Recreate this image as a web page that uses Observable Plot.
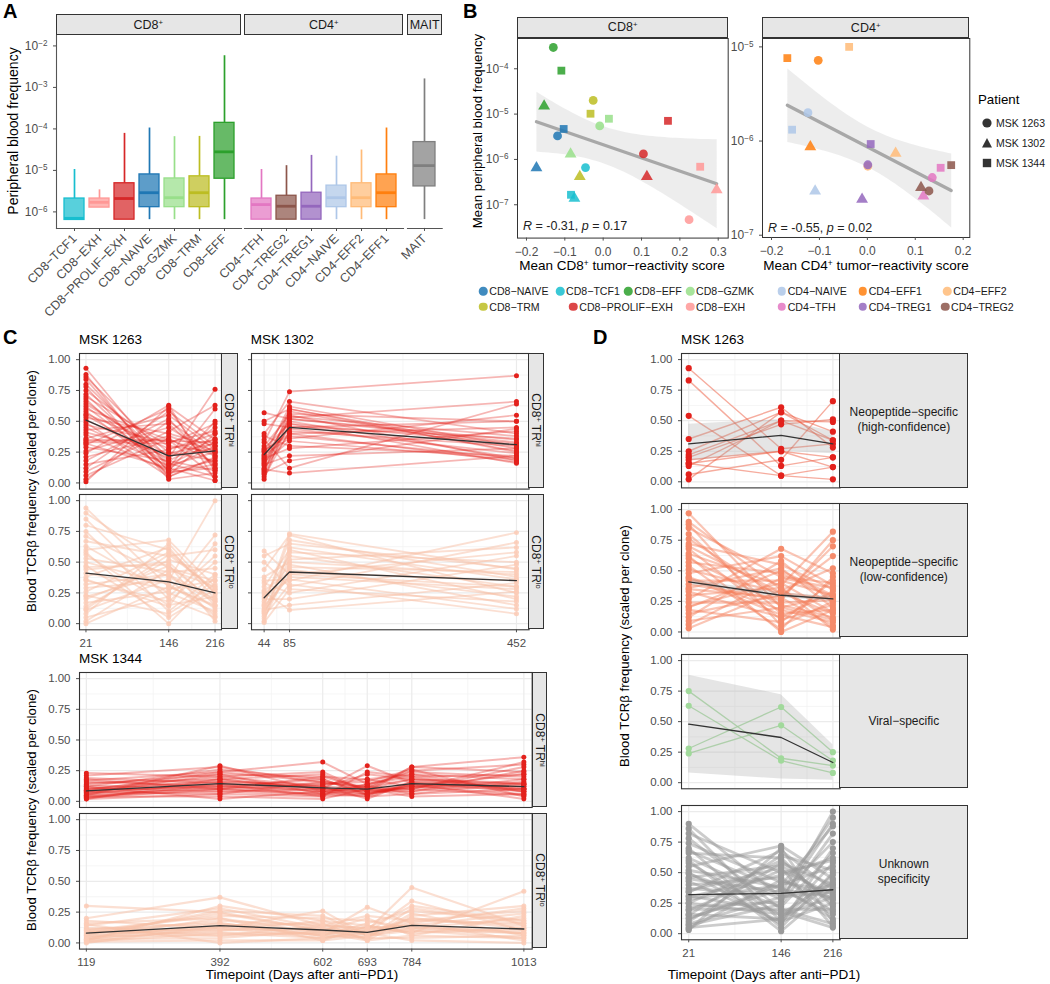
<!DOCTYPE html>
<html><head><meta charset="utf-8">
<script src="https://cdn.jsdelivr.net/npm/d3@7"></script>
<script src="https://cdn.jsdelivr.net/npm/@observablehq/plot@0.6"></script>
<style>
html,body{margin:0;padding:0;background:#fff;}
#root{position:relative;width:1050px;height:984px;overflow:hidden;font-family:"Liberation Sans",Arial,Helvetica,sans-serif;color:#000;}
.t{position:absolute;white-space:nowrap;line-height:1;}
.strip{position:absolute;box-sizing:border-box;background:#e6e6e6;border:1px solid #333;}
sup{font-size:0.62em;vertical-align:0.55em;line-height:0;}
</style></head><body><div id="root"></div>
<script>
// ================= DATA =================
// Panel A: boxplot summaries (peripheral blood frequency)
const aCats   = ["CD8−TCF1","CD8−EXH","CD8−PROLIF−EXH","CD8−NAIVE","CD8−GZMK","CD8−TRM","CD8−EFF",
                 "CD4−TFH","CD4−TREG2","CD4−TREG1","CD4−NAIVE","CD4−EFF2","CD4−EFF1","MAIT"];
const aGroups = ["CD8","CD8","CD8","CD8","CD8","CD8","CD8","CD4","CD4","CD4","CD4","CD4","CD4","MAIT"];
const aLow  = [6.4e-7,1.27e-6,6.5e-7,6.5e-7,6.5e-7,6.5e-7,6.5e-7,6.5e-7,6.5e-7,6.5e-7,6.5e-7,6.5e-7,6.5e-7,6.5e-7];
const aQ1   = [6.4e-7,1.27e-6,6.5e-7,1.3e-6,1.3e-6,1.3e-6,6.3e-6,6.5e-7,6.5e-7,6.5e-7,1.3e-6,1.3e-6,1.3e-6,4.1e-6];
const aMed  = [7.0e-7,1.7e-6,2.1e-6,2.9e-6,2.2e-6,2.9e-6,2.8e-5,1.5e-6,1.37e-6,1.37e-6,2.2e-6,2.2e-6,2.9e-6,1.3e-5];
const aQ3   = [2.1e-6,2.1e-6,4.9e-6,8.0e-6,6.4e-6,7.2e-6,1.4e-4,2.1e-6,2.45e-6,2.9e-6,4.3e-6,4.9e-6,8.0e-6,4.8e-5];
const aHigh = [1.05e-5,3.4e-6,7.8e-5,1.05e-4,6.5e-5,6.6e-5,5.8e-3,1.05e-5,1.3e-5,2.3e-5,2.2e-5,3.1e-5,1.05e-4,1.6e-3];

// Panel B: mean tumor-reactivity score vs mean peripheral frequency
const patients = ["MSK 1263","MSK 1302","MSK 1344"];
const b8Cell  = ["CD8−EFF","CD8−EFF","CD8−EFF","CD8−TRM","CD8−TRM","CD8−TRM","CD8−GZMK","CD8−GZMK","CD8−GZMK",
                 "CD8−NAIVE","CD8−NAIVE","CD8−NAIVE","CD8−TCF1","CD8−TCF1","CD8−TCF1",
                 "CD8−PROLIF−EXH","CD8−PROLIF−EXH","CD8−PROLIF−EXH","CD8−EXH","CD8−EXH","CD8−EXH"];
const b8Pat   = ["MSK 1263","MSK 1344","MSK 1302","MSK 1263","MSK 1344","MSK 1302","MSK 1344","MSK 1263","MSK 1302",
                 "MSK 1344","MSK 1263","MSK 1302","MSK 1263","MSK 1344","MSK 1302",
                 "MSK 1344","MSK 1263","MSK 1302","MSK 1344","MSK 1302","MSK 1263"];
const b8Score = [-0.130,-0.109,-0.154,-0.026,-0.033,-0.061,0.015,-0.009,-0.085,-0.103,-0.119,-0.174,-0.046,-0.084,-0.075,
                 0.169,0.105,0.114,0.253,0.296,0.224];
const b8Freq  = [2.95e-4,9.1e-5,1.5e-5,2.0e-5,1.02e-5,4.2e-7,7.9e-6,5.5e-6,1.32e-6,4.7e-6,3.3e-6,6.5e-7,6.6e-7,1.66e-7,1.38e-7,
                 7.1e-6,1.32e-6,4.2e-7,6.9e-7,2.14e-7,4.7e-8];
const b4Cell  = ["CD4−EFF1","CD4−EFF1","CD4−EFF2","CD4−NAIVE","CD4−NAIVE","CD4−EFF1","CD4−NAIVE","CD4−TREG1","CD4−TREG1",
                 "CD4−EFF2","CD4−TREG1","CD4−EFF2","CD4−TFH","CD4−TFH","CD4−TFH","CD4−TREG2","CD4−TREG2","CD4−TREG2"];
const b4Pat   = ["MSK 1344","MSK 1263","MSK 1344","MSK 1263","MSK 1344","MSK 1302","MSK 1302","MSK 1302","MSK 1344",
                 "MSK 1263","MSK 1263","MSK 1302","MSK 1344","MSK 1263","MSK 1302","MSK 1344","MSK 1302","MSK 1263"];
const b4Score = [-0.167,-0.1025,-0.038,-0.124,-0.157,-0.119,-0.109,-0.011,0.007,0.001,0.001,0.059,0.153,0.1355,0.117,0.175,0.112,0.1286];
const b4Freq  = [7.6e-6,7.2e-6,1.0e-5,2.0e-6,1.32e-6,8.7e-7,2.95e-7,2.4e-7,9.3e-7,5.4e-7,5.6e-7,7.4e-7,5.2e-7,4.1e-7,2.6e-7,5.55e-7,3.2e-7,2.95e-7];

// Panel C/D timepoints
const t1263 = [21,146,216];
const t1302 = [44,85,452];
const t1344 = [119,392,602,693,784,1013];

// Panel C: MSK 1263 clones (scaled frequency at 21, 146, 216)
const c1263Hi = [[0.93,0.12,0.30],[0.88,0.05,0.21],[0.86,0.20,0.45],[0.84,0.09,0.12],[0.80,0.15,0.33],[0.78,0.03,0.08],
 [0.75,0.25,0.18],[0.72,0.10,0.50],[0.70,0.30,0.25],[0.68,0.06,0.40],[0.66,0.18,0.10],[0.64,0.22,0.28],[0.62,0.12,0.60],
 [0.60,0.35,0.22],[0.58,0.08,0.15],[0.56,0.28,0.35],[0.55,0.16,0.05],[0.53,0.40,0.30],[0.51,0.20,0.76],[0.49,0.05,0.20],
 [0.47,0.33,0.42],[0.45,0.14,0.25],[0.43,0.48,0.14],[0.41,0.24,0.32],[0.39,0.10,0.18],[0.36,0.55,0.27],[0.34,0.34,0.33],
 [0.33,0.32,0.48],[0.31,0.60,0.10],[0.29,0.18,0.36],[0.26,0.45,0.22],[0.24,0.63,0.02],[0.21,0.38,0.26],[0.18,0.52,0.12],
 [0.15,0.27,0.40],[0.12,0.58,0.30],[0.09,0.42,0.63],[0.06,0.36,0.16],[0.03,0.50,0.24],[0.01,0.62,0.35],[0.35,0.35,0.05],[0.32,0.12,0.02]];
const c1263HiMean = [0.51,0.22,0.26];
const c1263Lo = [[0.94,0.30,0.15],[0.90,0.45,0.35],[0.85,0.20,0.05],[0.80,0.60,0.25],[0.75,0.10,0.40],[0.71,0.38,0.18],
 [0.67,0.55,0.60],[0.63,0.25,0.10],[0.60,0.68,0.30],[0.56,0.15,0.22],[0.53,0.42,0.45],[0.50,0.32,0.08],[0.47,0.05,0.28],
 [0.44,0.50,0.15],[0.41,0.28,0.35],[0.38,0.62,0.20],[0.35,0.18,0.50],[0.32,0.40,0.12],[0.29,0.35,1.00],[0.26,0.58,0.26],
 [0.23,0.08,0.32],[0.20,0.47,0.18],[0.17,0.26,0.72],[0.14,0.52,0.40],[0.11,0.36,0.06],[0.08,0.65,0.24],[0.05,0.22,0.55],
 [0.02,0.44,0.30],[0.00,0.30,0.14],[0.58,0.00,0.38],[0.46,0.48,0.02],[0.36,0.14,0.65],[0.22,0.40,0.20],[0.12,0.56,0.28]];
const c1263LoMean = [0.41,0.34,0.25];

// Panel C: MSK 1302 clones (44, 85, 452)
const c1302Hi = [[0.57,0.52,0.35],[0.50,0.60,0.28],[0.48,0.45,0.50],[0.40,0.66,0.40],[0.38,0.30,0.22],[0.33,0.74,0.87],
 [0.30,0.55,0.18],[0.28,0.48,0.32],[0.26,0.40,0.45],[0.25,0.58,0.26],[0.23,0.36,0.55],[0.22,0.50,0.20],[0.21,0.62,0.30],
 [0.20,0.28,0.42],[0.19,0.44,0.24],[0.18,0.53,0.66],[0.17,0.34,0.19],[0.16,0.46,0.36],[0.15,0.22,0.28],[0.14,0.56,0.50],
 [0.12,0.40,0.17],[0.11,0.08,0.22],[0.10,0.52,0.33],[0.09,0.60,0.25],[0.08,0.18,0.44],[0.07,0.48,0.16],[0.05,0.42,0.30],
 [0.03,0.54,0.38],[0.35,0.12,0.64],[0.27,0.38,0.20]];
const c1302HiMean = [0.23,0.45,0.31];
const c1302Lo = [[0.59,0.40,0.30],[0.55,0.65,0.45],[0.50,0.30,0.66],[0.44,0.72,0.25],[0.38,0.50,0.40],[0.33,0.25,0.55],
 [0.30,0.60,0.20],[0.27,0.42,0.35],[0.24,0.35,0.74],[0.22,0.55,0.30],[0.20,0.20,0.48],[0.18,0.48,0.15],[0.16,0.68,0.38],
 [0.14,0.38,0.28],[0.12,0.52,0.62],[0.11,0.15,0.33],[0.09,0.44,0.22],[0.08,0.58,0.50],[0.06,0.32,0.08],[0.04,0.46,0.42],
 [0.02,0.62,0.36],[0.01,0.28,0.18],[0.26,0.11,0.26],[0.15,0.73,0.44],[0.35,0.36,0.12],[0.10,0.40,0.58]];
const c1302LoMean = [0.21,0.42,0.35];

// Panel C: MSK 1344 clones (119, 392, 602, 693, 784, 1013)
const c1344Hi = [[0.23,0.20,0.12,0.10,0.18,0.15],[0.21,0.28,0.15,0.12,0.25,0.30],[0.19,0.15,0.08,0.06,0.12,0.10],
 [0.17,0.24,0.32,0.14,0.20,0.22],[0.16,0.12,0.10,0.29,0.15,0.08],[0.15,0.18,0.22,0.08,0.28,0.36],[0.14,0.22,0.06,0.12,0.10,0.05],
 [0.13,0.10,0.14,0.18,0.22,0.18],[0.12,0.26,0.18,0.05,0.14,0.12],[0.11,0.08,0.05,0.10,0.08,0.25],[0.10,0.16,0.12,0.22,0.18,0.14],
 [0.10,0.20,0.24,0.08,0.12,0.06],[0.09,0.12,0.08,0.14,0.24,0.20],[0.08,0.18,0.10,0.06,0.16,0.10],[0.08,0.06,0.16,0.12,0.06,0.16],
 [0.07,0.14,0.04,0.24,0.20,0.08],[0.07,0.22,0.20,0.10,0.10,0.28],[0.06,0.10,0.06,0.04,0.14,0.12],[0.06,0.16,0.14,0.16,0.26,0.04],
 [0.05,0.08,0.10,0.08,0.08,0.18],[0.05,0.29,0.08,0.12,0.18,0.10],[0.04,0.12,0.18,0.06,0.12,0.22],[0.04,0.04,0.02,0.10,0.04,0.06],
 [0.03,0.14,0.12,0.02,0.16,0.14],[0.03,0.10,0.06,0.14,0.22,0.08],[0.02,0.18,0.10,0.08,0.10,0.32],[0.02,0.06,0.04,0.06,0.14,0.02],
 [0.12,0.02,0.08,0.04,0.06,0.10],[0.18,0.10,0.20,0.18,0.12,0.14],[0.09,0.24,0.16,0.10,0.28,0.24]];
const c1344HiMean = [0.085,0.145,0.11,0.10,0.145,0.12];
const c1344Lo = [[0.30,0.25,0.10,0.08,0.20,0.12],[0.20,0.37,0.14,0.12,0.30,0.18],[0.18,0.12,0.26,0.06,0.12,0.08],
 [0.16,0.20,0.08,0.29,0.16,0.28],[0.14,0.28,0.12,0.10,0.45,0.14],[0.12,0.10,0.18,0.14,0.08,0.42],[0.11,0.16,0.06,0.04,0.24,0.06],
 [0.10,0.22,0.20,0.18,0.12,0.20],[0.09,0.08,0.04,0.08,0.34,0.10],[0.08,0.18,0.14,0.12,0.14,0.24],[0.07,0.12,0.10,0.20,0.06,0.04],
 [0.06,0.26,0.22,0.06,0.18,0.16],[0.06,0.06,0.08,0.10,0.10,0.08],[0.05,0.14,0.16,0.02,0.22,0.30],[0.04,0.20,0.02,0.14,0.08,0.12],
 [0.04,0.10,0.12,0.08,0.16,0.02],[0.03,0.16,0.06,0.16,0.26,0.18],[0.03,0.04,0.10,0.04,0.04,0.06],[0.02,0.12,0.04,0.10,0.12,0.10],
 [0.02,0.30,0.18,0.06,0.20,0.14],[0.01,0.08,0.08,0.02,0.06,0.22],[0.01,0.02,0.02,0.06,0.10,0.04],[0.00,0.14,0.06,0.12,0.14,0.08],
 [0.10,0.06,0.14,0.22,0.18,0.26],[0.08,0.24,0.10,0.04,0.28,0.16],[0.15,0.00,0.04,0.08,0.02,0.00]];
const c1344LoMean = [0.08,0.14,0.105,0.086,0.143,0.113];

// Panel D: MSK 1263 by specificity (21, 146, 216)
const dHigh = [[0.93,0.27,0.31],[0.83,0.13,0.20],[0.54,0.05,0.02],[0.35,0.61,0.28],[0.25,0.57,0.41],[0.22,0.50,0.34],
 [0.20,0.47,0.51],[0.15,0.25,0.12],[0.13,0.50,0.49],[0.06,0.18,0.66],[0.02,0.57,0.34],[0.15,0.05,0.12],[0.18,0.25,0.20]];
const dHighMean = [0.31,0.38,0.31];
const dHighCiLo = [0.17,0.25,0.23];
const dHighCiHi = [0.47,0.51,0.41];
const dLow = [[0.97,0.20,0.30],[0.90,0.35,0.10],[0.88,0.05,0.25],[0.85,0.45,0.40],[0.80,0.15,0.18],[0.76,0.28,0.05],
 [0.72,0.55,0.35],[0.68,0.10,0.22],[0.64,0.38,0.82],[0.60,0.22,0.12],[0.57,0.48,0.28],[0.54,0.02,0.45],[0.51,0.32,0.15],
 [0.48,0.62,0.38],[0.45,0.18,0.08],[0.42,0.42,0.30],[0.39,0.26,0.75],[0.36,0.52,0.20],[0.33,0.12,0.33],[0.30,0.36,0.02],
 [0.27,0.68,0.48],[0.24,0.24,0.26],[0.21,0.40,0.16],[0.18,0.08,0.42],[0.15,0.30,0.62],[0.12,0.58,0.24],[0.09,0.20,0.10],
 [0.06,0.44,0.36],[0.03,0.34,0.52],[0.62,0.00,0.18],[0.35,0.28,0.70],[0.20,0.50,0.30],[0.44,0.14,0.04],[0.70,0.32,0.27]];
const dLowMean = [0.41,0.30,0.27];
const dLowCiLo = [0.39,0.28,0.25];
const dLowCiHi = [0.43,0.32,0.29];
const dViral = [[0.75,0.20,0.14],[0.63,0.18,0.08],[0.28,0.62,0.25],[0.24,0.47,0.18]];
const dViralMean = [0.48,0.37,0.165];
const dViralCiLo = [0.08,0.03,0.02];
const dViralCiHi = [0.88,0.72,0.31];
const dUnk = [[0.90,0.30,0.40],[0.86,0.10,0.25],[0.82,0.50,0.60],[0.78,0.20,0.08],[0.74,0.42,0.35],[0.70,0.05,0.50],
 [0.66,0.62,0.22],[0.62,0.28,0.90],[0.58,0.15,0.30],[0.55,0.72,0.45],[0.52,0.38,0.12],[0.49,0.22,0.66],[0.46,0.56,0.28],
 [0.43,0.10,0.42],[0.40,0.46,0.18],[0.37,0.32,0.75],[0.34,0.68,0.36],[0.31,0.18,0.05],[0.28,0.40,0.55],[0.25,0.60,0.24],
 [0.22,0.26,1.00],[0.19,0.52,0.32],[0.16,0.12,0.48],[0.13,0.36,0.16],[0.10,0.58,0.40],[0.07,0.24,0.82],[0.04,0.44,0.28],
 [0.03,0.70,0.10],[0.60,0.02,0.38],[0.45,0.34,0.95],[0.30,0.48,0.62],[0.20,0.20,0.20],[0.15,0.64,0.52],[0.08,0.30,0.34],
 [0.50,0.08,0.70],[0.35,0.54,0.06],[0.25,0.16,0.44],[0.12,0.40,0.88],[0.68,0.36,0.30],[0.05,0.12,0.58]];
const dUnkMean = [0.32,0.33,0.36];

// Legend order
const legendRow1 = ["CD8−NAIVE","CD8−TCF1","CD8−EFF","CD8−GZMK","CD4−NAIVE","CD4−EFF1","CD4−EFF2"];
const legendRow2 = ["CD8−TRM","CD8−PROLIF−EXH","CD8−EXH","CD4−TFH","CD4−TREG1","CD4−TREG2"];

// ================= STYLE =================
const cellColor = {"CD8−NAIVE":"#1f77b4","CD8−TCF1":"#17becf","CD8−EFF":"#2ca02c","CD8−GZMK":"#98df8a","CD8−TRM":"#bcbd22",
  "CD8−PROLIF−EXH":"#d62728","CD8−EXH":"#ff9896","CD4−NAIVE":"#aec7e8","CD4−EFF1":"#ff7f0e","CD4−EFF2":"#ffbb78",
  "CD4−TFH":"#e377c2","CD4−TREG1":"#9467bd","CD4−TREG2":"#8c564b","MAIT":"#7f7f7f"};
const colorScale = {domain:Object.keys(cellColor), range:Object.values(cellColor)};
const FONT = '"Liberation Sans", Arial, Helvetica, sans-serif';
const root = document.getElementById('root');

function label(html,x,y,o={}){
  const d=document.createElement('div'); d.className='t'; d.innerHTML=html;
  const ax=o.ax??0, ay=o.ay??0.5;
  d.style.left=x+'px'; d.style.top=y+'px'; d.style.fontSize=(o.size??12)+'px';
  if(o.weight) d.style.fontWeight=o.weight;
  if(o.color) d.style.color=o.color;
  d.style.transform=`translate(${-ax*100}%,${-ay*100}%)`+(o.rot?` rotate(${o.rot}deg)`:'');
  root.appendChild(d); return d;
}
function strip(html,l,t,r,b,o={}){
  const d=document.createElement('div'); d.className='strip';
  Object.assign(d.style,{left:l+'px',top:t+'px',width:(r-l)+'px',height:(b-t)+'px'});
  const s=document.createElement('div'); s.className='t'; s.innerHTML=html;
  Object.assign(s.style,{fontSize:(o.size??12)+'px',color:'#1a1a1a',left:'50%',top:'50%',textAlign:'center',
    lineHeight:(o.lh??1)+'',transform:'translate(-50%,-50%)'+(o.vertical?' rotate(90deg)':'')});
  d.appendChild(s); root.appendChild(d);
}
function placePlot(fr,m,opts){
  const w=fr.r-fr.l, h=fr.b-fr.t, W=w+m.l+m.r, H=h+m.t+m.b;
  const svg=Plot.plot(Object.assign({width:W,height:H,marginLeft:m.l,marginRight:m.r,marginTop:m.t,marginBottom:m.b,
    style:{fontFamily:FONT,fontSize:'11.5px',color:'#4d4d4d',background:'transparent',overflow:'visible',maxWidth:'none'}},opts));
  const d=document.createElement('div');
  d.style.cssText=`position:absolute;left:${fr.l-m.l}px;top:${fr.t-m.t}px;width:${W}px;height:${H}px;`;
  d.appendChild(svg); root.appendChild(d); return svg;
}
function supify(svg){
  svg.querySelectorAll('text').forEach(t=>{
    const m=/^10\^(.+)$/.exec(t.textContent); if(!m) return;
    t.textContent='10';
    const ts=document.createElementNS('http://www.w3.org/2000/svg','tspan');
    ts.setAttribute('dy','-0.5em'); ts.setAttribute('font-size','0.68em'); ts.textContent=m[1];
    t.appendChild(ts);
  });
}
const expFmt = k => '10^' + String(Math.round(k)).replace('-','−');

// ================= PANEL A =================
label('A',3,11,{size:20,weight:'bold'});
const aRows = aCats.map((c,i)=>({cat:c,grp:aGroups[i],lo:aLow[i],q1:aQ1[i],med:aMed[i],q3:aQ3[i],hi:aHigh[i]}));
function boxFacet(grp,fr,withY){
  const rows=aRows.filter(d=>d.grp===grp);
  const marks=[
    Plot.ruleX(rows,{x:'cat',y1:'lo',y2:'q1',stroke:'cat',strokeWidth:1.7}),
    Plot.ruleX(rows,{x:'cat',y1:'q3',y2:'hi',stroke:'cat',strokeWidth:1.7}),
    Plot.barY(rows,{x:'cat',y1:'q1',y2:'q3',fill:'cat',fillOpacity:0.72,stroke:'cat',strokeWidth:1.3}),
    Plot.tickY(rows,{x:'cat',y:'med',stroke:'cat',strokeWidth:2.8}),
    Plot.frame({anchor:'bottom',stroke:'#555',strokeWidth:1.1}),
    withY && Plot.frame({anchor:'left',stroke:'#555',strokeWidth:1.1}),
    Plot.axisX({tickRotate:-45,tickSize:3,tickPadding:5,label:null,fontSize:12.5}),
    withY && Plot.axisY({ticks:[1e-6,1e-5,1e-4,1e-3,1e-2],tickFormat:d=>expFmt(Math.log10(d)),tickSize:3,label:null,fontSize:12})
  ].filter(Boolean);
  const svg=placePlot(fr,{l:withY?45:2,r:2,t:2,b:100},{
    x:{type:'band',domain:rows.map(d=>d.cat),paddingInner:0.22,paddingOuter:0.21},
    y:Object.assign({type:'log',domain:[10**-6.4,10**-1.749]},withY?{}:{axis:null}),
    color:colorScale, marks});
  supify(svg);
}
strip('CD8<sup>+</sup>',55.7,14.3,240.7,35.3,{size:12.5});
strip('CD4<sup>+</sup>',244.3,14.3,403.3,35.3,{size:12.5});
strip('MAIT',407.3,14.3,442,35.3,{size:12.5});
boxFacet('CD8',{l:55.7,r:240.7,t:35.3,b:228.3},true);
boxFacet('CD4',{l:244.3,r:403.3,t:35.3,b:228.3},false);
boxFacet('MAIT',{l:407.3,r:442,t:35.3,b:228.3},false);
label('Peripheral blood frequency',13,131,{size:14,ax:0.5,ay:0.5,rot:-90});

// ================= PANEL B =================
label('B',463,11,{size:20,weight:'bold'});
const b8Rows = b8Cell.map((c,i)=>({cell:c,pat:b8Pat[i],x:b8Score[i],ly:Math.log10(b8Freq[i])}));
const b4Rows = b4Cell.map((c,i)=>({cell:c,pat:b4Pat[i],x:b4Score[i],ly:Math.log10(b4Freq[i])}));
function scatter(fr,rows,xdom,ydom,xticks,yticks){
  const svg=placePlot(fr,{l:36,r:2,t:2,b:24},{
    x:{domain:xdom}, y:{domain:ydom}, color:colorScale,
    symbol:{domain:patients,range:['circle','triangle','square']},
    marks:[
      Plot.linearRegressionY(rows,{x:'x',y:'ly',stroke:'#a8a8a8',strokeWidth:3.3,fill:'#c4c4c4',fillOpacity:0.3,ci:0.95}),
      Plot.dot(rows,{x:'x',y:'ly',symbol:'pat',fill:'cell',fillOpacity:0.85,r:4.4}),
      Plot.frame({stroke:'#333'}),
      Plot.axisX({ticks:xticks,tickFormat:d3.format('.1f'),tickSize:3,label:null,fontSize:12}),
      Plot.axisY({ticks:yticks,tickFormat:expFmt,tickSize:3,label:null,fontSize:12})
    ]});
  supify(svg);
}
strip('CD8<sup>+</sup>',517.3,16.7,728,37.7,{size:12.5});
strip('CD4<sup>+</sup>',762,17,969.3,38.3,{size:12.5});
scatter({l:517.3,r:728,t:37.7,b:237.3},b8Rows,[-0.2234,0.326],[-7.735,-3.332],[-0.2,-0.1,0,0.1,0.2,0.3],[-7,-6,-5,-4]);
scatter({l:762,r:969.3,t:38.3,b:237.3},b4Rows,[-0.2188,0.2138],[-7.024,-4.911],[-0.2,-0.1,0,0.1,0.2],[-7,-6,-5]);
label('<i>R</i> = -0.31, <i>p</i> = 0.17',523,226,{size:12.5,color:'#222'});
label('<i>R</i> = -0.55, <i>p</i> = 0.02',768,228,{size:12.5,color:'#222'});
label('Mean peripheral blood frequency',478,131,{size:13.3,ax:0.5,ay:0.5,rot:-90});
label('Mean CD8<sup>+</sup> tumor−reactivity score',622,266,{size:13.5,ax:0.5});
label('Mean CD4<sup>+</sup> tumor−reactivity score',866,266,{size:13.5,ax:0.5});
// patient legend
label('Patient',978,100,{size:13.3});
const symSvg = {
  'MSK 1263':'<circle cx="5" cy="5" r="4.6" fill="#333"/>',
  'MSK 1302':'<polygon points="5,0 10,9.5 0,9.5" fill="#333"/>',
  'MSK 1344':'<rect x="0.8" y="0.8" width="8.4" height="8.4" fill="#333"/>'};
[122.7,142.7,163.3].forEach((y,i)=>{
  const p=patients[i];
  label(`<svg width="10" height="10" style="display:block">${symSvg[p]}</svg>`,982,y,{size:10});
  label(p,996,y,{size:10.5,color:'#1a1a1a'});
});
// color legend
const legPos1=[483.3,560,628.3,690,781.7,862.7,947.3], legPos2=[483.3,573.3,690,781.7,862.7,945];
[[legendRow1,legPos1,291],[legendRow2,legPos2,306.7]].forEach(([names,xs,y])=>{
  names.forEach((n,i)=>{
    label(`<span style="display:block;width:8.5px;height:8.5px;border-radius:50%;background:${cellColor[n]};opacity:0.85"></span>`,xs[i],y,{ax:0.5});
    label(n,xs[i]+6,y,{size:10.6,color:'#1a1a1a'});
  });
});

// ================= PANELS C / D =================
function flat(clones,tps){const out=[];clones.forEach((v,i)=>v.forEach((y,j)=>out.push({c:i,t:tps[j],v:y})));return out;}
function mids(t){return t.slice(1).map((d,i)=>(d+t[i])/2);}
function linePanel(o){
  const data=flat(o.clones,o.tps);
  const mean=o.mean.map((v,j)=>({t:o.tps[j],v}));
  const rib=o.ciLo?o.ciLo.map((v,j)=>({t:o.tps[j],lo:v,hi:o.ciHi[j]})):null;
  const marks=[
    Plot.gridY([0.125,0.375,0.625,0.875],{stroke:'#f3f3f3',strokeOpacity:1,strokeWidth:0.8}),
    Plot.gridX(mids(o.tps),{stroke:'#f3f3f3',strokeOpacity:1,strokeWidth:0.8}),
    Plot.gridY([0,0.25,0.5,0.75,1],{stroke:'#ebebeb',strokeOpacity:1,strokeWidth:1.2}),
    Plot.gridX(o.tps,{stroke:'#ebebeb',strokeOpacity:1,strokeWidth:1.2}),
    Plot.line(data,{x:'t',y:'v',z:'c',stroke:o.lc,strokeOpacity:o.lo,strokeWidth:o.lw??1.1}),
    rib && Plot.areaY(rib,{x:'t',y1:'lo',y2:'hi',fill:'#a0a0a0',fillOpacity:0.28}),
    Plot.dot(data,{x:'t',y:'v',r:o.r,fill:o.dc,fillOpacity:o.dop??1}),
    Plot.line(mean,{x:'t',y:'v',stroke:'#333',strokeWidth:1.3}),
    Plot.frame({stroke:'#333',strokeWidth:1.1}),
    Plot.axisY({ticks:[0,0.25,0.5,0.75,1],tickFormat:o.yLabels?d3.format('.2f'):()=>'',tickSize:3,label:null}),
    o.xAxis && Plot.axisX({ticks:o.tps,tickFormat:d=>String(d),tickSize:3,label:null})
  ].filter(Boolean);
  placePlot(o.fr,{l:36,r:2,t:2,b:o.xAxis?22:2},{
    x:Object.assign({domain:o.xdom},o.xAxis?{}:{axis:null}), y:{domain:[-0.05,1.05]}, marks});
}
const HI={lc:'#e3211c',lo:0.33,dc:'#e3211c',r:2.5,lw:1.7};
const LO={lc:'#f8bfa6',lo:0.5,dc:'#fbcbb6',dop:0.85,r:2.5,lw:1.8};
const hiStrip='CD8<sup>+</sup> TR<sup>hi</sup>', loStrip='CD8<sup>+</sup> TR<sup>lo</sup>';

label('C',3,337,{size:20,weight:'bold'});
label('MSK 1263',79,340,{size:13.5});
label('MSK 1302',250.7,340,{size:13.5});
label('MSK 1344',79,659,{size:13.5});
// MSK 1263
linePanel({...HI,fr:{l:79,r:221,t:352.7,b:488.3},tps:t1263,xdom:[11.25,225.75],clones:c1263Hi,mean:c1263HiMean,yLabels:true});
linePanel({...LO,fr:{l:79,r:221,t:494,b:629.3},tps:t1263,xdom:[11.25,225.75],clones:c1263Lo,mean:c1263LoMean,yLabels:true,xAxis:true});
strip(hiStrip,221,352.7,237.7,488.3,{vertical:true,size:12});
strip(loStrip,221,494,237.7,629.3,{vertical:true,size:12});
// MSK 1302
linePanel({...HI,fr:{l:250.7,r:528.3,t:352.7,b:488.3},tps:t1302,xdom:[23.6,472.4],clones:c1302Hi,mean:c1302HiMean});
linePanel({...LO,fr:{l:250.7,r:528.3,t:494,b:629.3},tps:t1302,xdom:[23.6,472.4],clones:c1302Lo,mean:c1302LoMean,xAxis:true});
strip(hiStrip,528.3,352.7,544.3,488.3,{vertical:true,size:12});
strip(loStrip,528.3,494,544.3,629.3,{vertical:true,size:12});
// MSK 1344
linePanel({...HI,fr:{l:79,r:531.7,t:672.3,b:807.3},tps:t1344,xdom:[105,1030],clones:c1344Hi,mean:c1344HiMean,yLabels:true,lw:2});
linePanel({...LO,fr:{l:79,r:531.7,t:812.7,b:948.3},tps:t1344,xdom:[105,1030],clones:c1344Lo,mean:c1344LoMean,yLabels:true,xAxis:true,lw:2.2});
strip(hiStrip,531.7,672.3,547.5,807.3,{vertical:true,size:12});
strip(loStrip,531.7,812.7,547.5,948.3,{vertical:true,size:12});
label('Blood TCRβ frequency (scaled per clone)',31.5,491,{size:13.2,ax:0.5,ay:0.5,rot:-90});
label('Blood TCRβ frequency (scaled per clone)',31.5,810,{size:13.2,ax:0.5,ay:0.5,rot:-90});
label('Timepoint (Days after anti−PD1)',302,975,{size:13.5,ax:0.5});

// Panel D
label('D',593,337,{size:20,weight:'bold'});
label('MSK 1263',681,340,{size:13.5});
const dx=[11.25,225.75];
linePanel({fr:{l:680.7,r:839.3,t:353.3,b:487.7},tps:t1263,xdom:dx,clones:dHigh,mean:dHighMean,ciLo:dHighCiLo,ciHi:dHighCiHi,
  lc:'#ee5a3e',lo:0.5,dc:'#e3211c',r:3.1,lw:1.4,yLabels:true});
linePanel({fr:{l:680.7,r:839.3,t:502.7,b:637.3},tps:t1263,xdom:dx,clones:dLow,mean:dLowMean,ciLo:dLowCiLo,ciHi:dLowCiHi,
  lc:'#f47f5c',lo:0.45,dc:'#f58b6b',r:3.1,lw:2.2,yLabels:true});
linePanel({fr:{l:680.7,r:839.3,t:654,b:788.3},tps:t1263,xdom:dx,clones:dViral,mean:dViralMean,ciLo:dViralCiLo,ciHi:dViralCiHi,
  lc:'#a1d99b',lo:0.8,dc:'#a1d99b',r:3.1,lw:1.3,yLabels:true});
linePanel({fr:{l:680.7,r:839.3,t:805,b:939.3},tps:t1263,xdom:dx,clones:dUnk,mean:dUnkMean,
  lc:'#9a9a9a',lo:0.5,dc:'#9a9a9a',r:3.1,lw:2.8,yLabels:true,xAxis:true});
strip('Neopeptide−specific<br>(high-confidence)',839.3,353.3,968.3,487.7,{size:12,lh:1.25});
strip('Neopeptide−specific<br>(low-confidence)',839.3,502.7,968.3,637.3,{size:12,lh:1.25});
strip('Viral−specific',839.3,654,968.3,788.3,{size:12});
strip('Unknown<br>specificity',839.3,805,968.3,939.3,{size:12,lh:1.25});
label('Blood TCRβ frequency (scaled per clone)',625,646,{size:13.2,ax:0.5,ay:0.5,rot:-90});
label('Timepoint (Days after anti−PD1)',764,975,{size:13.5,ax:0.5});
</script></body></html>
